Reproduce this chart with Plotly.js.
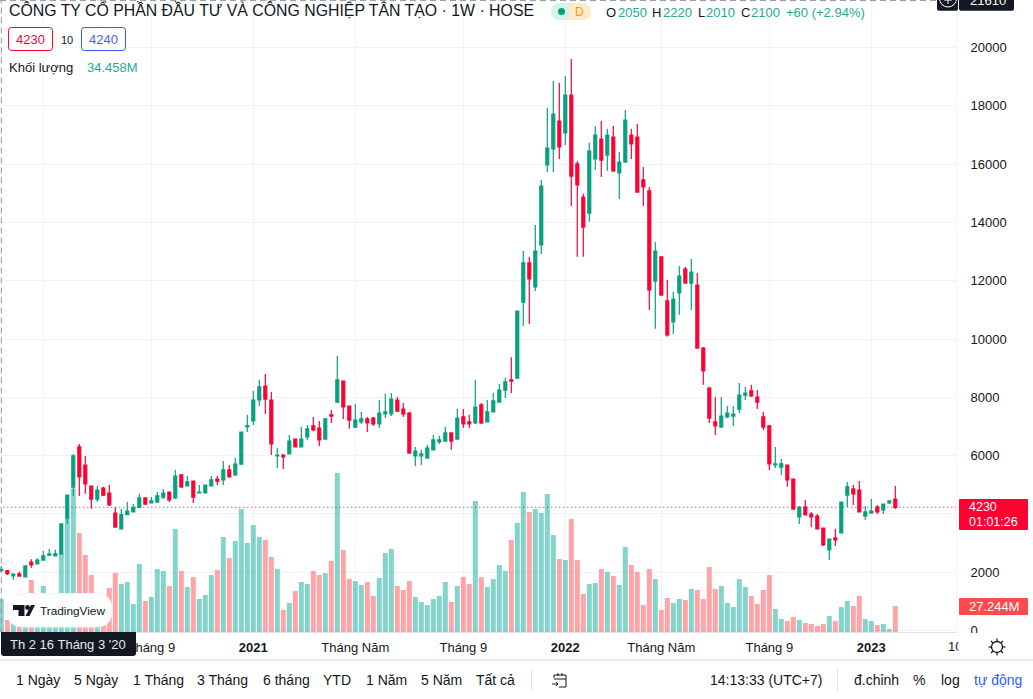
<!DOCTYPE html>
<html><head><meta charset="utf-8">
<script src="https://cdn.plot.ly/plotly-3.0.0.min.js"></script>
<style>html,body{margin:0;padding:0;background:#fff;overflow:hidden}#chart{width:1033px;height:699px}</style>
</head><body><div id="chart"></div>
<script>
const firstWeek = '2020-03-16';
const opens = [2050,2050,1880,1950,1840,2350,2290,2420,2590,2560,2630,3860,4920,6300,5680,4960,4510,4890,4720,4030,3490,3980,4070,4230,4550,4380,4410,4580,4750,4550,5340,4960,5130,4720,4720,4960,5200,5170,5510,5340,5710,6990,
7190,7910,8390,7910,5990,6020,6060,6570,6300,6640,7020,6950,6570,7400,7840,8560,7700,6980,7160,7260,7290,7090,7430,7430,7910,7600,7460,5990,5990,5920,6200,6470,6500,6780,6570,7330,7160,7120,7740,7160,7500,7840,8250,8600,8660,
11270,12610,11790,13230,15970,16520,17480,17070,18370,16010,14870,14320,16180,16860,16310,16930,15700,16070,17000,16930,15460,15080,11990,12820,11310,10590,11580,12400,11920,11850,
9690,8320,7160,6980,7330,7360,7600,8080,8220,8010,7330,7020,5680,5610,5680,5200,3900,4240,4000,3930,3520,2770,3180,3350,4650,4860,4820,3930,4030,4240,4140,4380,4510];
const highs = [2220,2080,1970,2020,2220,2450,2480,2730,2800,2770,3660,4650,6060,6400,5990,4960,4960,4930,4990,4240,4170,4410,4340,4690,4550,4580,4750,4860,4750,5510,5370,5300,5130,4990,4990,5300,5300,5820,5680,5920,6810,7400,
8220,8600,8800,8180,6260,6060,6710,6570,6980,7050,7330,7190,7290,7570,9420,8560,7700,7770,7500,7330,7330,7910,8120,8150,8010,7810,7500,6300,6200,6370,6710,6680,6980,6780,7600,7600,7400,8600,7810,7910,8150,8460,8670,9380,10960,
13020,12820,13910,15460,17930,18850,18780,19020,19610,16110,14980,16730,17310,17480,17210,17310,16420,17860,17210,17380,15900,15220,13330,12820,12030,11620,12510,12470,12750,12270,
9730,8360,8010,8010,7700,7700,8490,8360,8430,8250,7500,7050,6300,5890,5680,5200,4270,4480,4070,4000,3520,3140,3490,4410,5100,4990,5130,4270,4510,4310,4340,4450,4960];
const lows = [2010,1910,1740,1870,1840,2160,2290,2420,2560,2560,2630,3660,4620,4620,4690,4170,4410,4620,4270,3550,3490,3980,4070,4230,4310,4380,4410,4510,4410,4510,4890,4960,4380,4720,4720,4960,4990,4990,5270,5300,5710,6810,
7050,7700,7430,6020,5580,5540,6060,6300,6300,6540,6850,6330,6570,7120,7810,7260,6920,6950,7090,6810,7020,6950,7290,7360,7500,7330,6090,5650,5680,5890,6200,6400,6500,6200,6570,6950,6950,7090,7090,7160,7500,7840,7980,8150,8660,
10450,10520,11650,12920,15730,15730,16180,16660,14560,12820,12820,14020,15800,15560,15770,15730,14800,16070,16180,15040,14560,11000,10350,11510,10080,10170,10830,11920,11000,9690,
8430,7120,6710,6980,7290,7020,7460,7910,8010,7600,6880,5510,5580,5340,4930,4170,3660,3970,3550,3490,2900,2420,2900,3350,4240,4310,4070,3790,4030,4000,4000,4340,4170];
const closes = [2100,1950,1940,1870,2220,2250,2420,2560,2630,2630,3660,4650,5990,5270,5030,4510,4820,4650,4310,3550,3980,4100,4230,4550,4340,4450,4620,4720,4480,5300,4930,5100,4580,4750,4990,5170,5130,5510,5270,5710,6810,7030,
7910,8360,7940,6400,6020,5960,6500,6300,6570,6920,6880,6540,7260,7360,8600,7670,7220,7220,7260,7120,7090,7460,7500,7940,7530,7430,6090,6160,6060,6260,6540,6540,6780,6500,7290,7090,7090,7670,7120,7500,7880,8250,8530,8560,10960,
12610,12060,13020,15250,16550,17720,16590,18370,15590,15290,13840,16450,17000,16140,17000,15770,16070,17510,16690,15040,15220,11680,13020,11510,10140,11370,12160,11920,12300,9690,
8910,7290,7020,7360,7460,7430,8080,8150,8050,7840,6980,5720,5720,5720,5170,4170,4240,3970,3900,3490,2940,3140,3110,4410,4930,4690,4070,4070,4100,4070,4340,4450,4230];
const volumesM = [34.458,12.6,10.8,6.6,16.0,54.5,26.5,48.2,40.9,39.8,82.4,119.1,150.5,103.7,80.7,59.7,28.3,35.3,46.1,61.8,50.3,52.4,29.3,71.3,32.5,36.7,66.0,63.9,48.2,107.9,63.9,47.2,57.6,34.6,38.8,59.7,65.0,99.6,77.5,95.4,128.9,93.3,112.1,99.6,
96.4,78.6,66.0,23.1,30.4,43.0,52.4,50.3,63.9,59.7,61.8,74.4,166.6,85.9,55.5,53.4,49.3,52.4,37.7,56.6,82.8,87.0,48.2,44.0,53.4,36.7,31.4,28.3,34.6,37.7,52.4,31.4,48.2,57.6,50.3,137.3,57.6,47.2,55.5,70.2,63.9,
96.4,114.2,146.7,125.7,128.9,124.7,144.6,101.6,76.5,75.4,118.4,75.4,39.8,50.3,51.3,66.0,62.9,58.7,49.3,89.1,70.2,62.9,28.3,66.0,55.5,23.1,35.6,30.4,34.6,33.5,45.1,44.0,34.6,68.1,45.1,48.2,30.4,26.2,55.5,47.2,
37.7,29.3,44.0,59.7,24.1,13.6,11.5,15.7,12.6,9.4,8.4,6.3,8.4,16.8,11.5,26.2,32.5,27.2,37.7,13.6,11.5,7.3,8.4,3.1,27.244];
const tickWeeks = [7,25,42,59,77,94,110,128,145];
const tickLabels = ['','Tháng 9','<b>2021</b>','Tháng Năm','Tháng 9','<b>2022</b>','Tháng Năm','Tháng 9','<b>2023</b>'];
const priceTicks = [0,2000,4000,6000,8000,10000,12000,14000,16000,18000,20000];
// 4000 sits behind the last-price tag in the reference, so its label is left blank
const priceTickLabels = ['0','2000','','6000','8000','10000','12000','14000','16000','18000','20000'];
const lastPrice = 4230, crossPrice = 21610;

const FONT='"Liberation Sans", Arial, sans-serif';
const GREEN='#08A07F', RED='#FF0033', INK='#131722', GRID='#F0F3FA', EDGE='#E0E3EB', TEAL='#22AB94', BLUE='#2962FF';
const WEEK=7*864e5, t0=Date.parse(firstWeek+'T00:00:00Z');
const weekDate=i=>new Date(t0+i*WEEK).toISOString().slice(0,10);
const weeks=opens.map((_,i)=>weekDate(i));
const isUp=closes.map((c,i)=>c>=opens[i]);
const PW=956, PH=632;
const X=p=>p/PW, Y=p=>(PH-p)/PH;

const shapes=[], annotations=[];
const pt=(x,y)=>X(x)+','+Y(y);
function roundPath(x0,y0,x1,y1,r,rb){ rb=rb===undefined?r:rb;
  return 'M'+pt(x0+r,y0)+' L'+pt(x1-r,y0)+' Q'+pt(x1,y0)+' '+pt(x1,y0+r)+' L'+pt(x1,y1-rb)+' Q'+pt(x1,y1)+' '+pt(x1-rb,y1)+
   ' L'+pt(x0+rb,y1)+' Q'+pt(x0,y1)+' '+pt(x0,y1-rb)+' L'+pt(x0,y0+r)+' Q'+pt(x0,y0)+' '+pt(x0+r,y0)+' Z';}
function path(d,fill,line,w){shapes.push({type:'path',xref:'paper',yref:'paper',path:d,fillcolor:fill||'rgba(0,0,0,0)',line:{color:line||'rgba(0,0,0,0)',width:w||0},layer:'above'});}
function rect(x0,y0,x1,y1,fill){shapes.push({type:'rect',xref:'paper',yref:'paper',x0:X(x0),x1:X(x1),y0:Y(y1),y1:Y(y0),fillcolor:fill,line:{width:0},layer:'above'});}
function seg(x0,y0,x1,y1,c,w){shapes.push({type:'line',xref:'paper',yref:'paper',x0:X(x0),x1:X(x1),y0:Y(y0),y1:Y(y1),line:{color:c,width:w||1},layer:'above'});}
function circ(cx,cy,r,fill,line,w){shapes.push({type:'circle',xref:'paper',yref:'paper',x0:X(cx-r),x1:X(cx+r),y0:Y(cy+r),y1:Y(cy-r),fillcolor:fill||'rgba(0,0,0,0)',line:{color:line||'rgba(0,0,0,0)',width:w||0},layer:'above'});}
function label(text,x,y,o){o=o||{};annotations.push({text:text,xref:'paper',yref:'paper',x:X(x),y:Y(y),xanchor:o.anchor||'left',yanchor:'middle',showarrow:false,borderpad:0,borderwidth:0,
  font:{family:o.family||FONT,size:o.size||13,color:o.color||INK,weight:o.weight||400}});}

// crosshair
shapes.push({type:'line',xref:'x',yref:'y',x0:weeks[0],x1:weeks[0],y0:-100,y1:crossPrice+100,line:{color:'#9598A1',width:1,dash:'6px,4px'},layer:'above'});
shapes.push({type:'line',xref:'paper',yref:'y',x0:0,x1:1,y0:crossPrice,y1:crossPrice,line:{color:'#9598A1',width:1,dash:'6px,4px'},layer:'above'});
// clip below the price scale
rect(958,633,1033,660,'#fff');
// legend
label('CÔNG TY CỔ PHẦN ĐẦU TƯ VÀ CÔNG NGHIỆP TÂN TẠO · 1W · HOSE',9,10,{size:15.85});
path(roundPath(551,3,591,20,8.5),'#D6F3EE');
path('M'+pt(569,3)+' L'+pt(582.5,3)+' Q'+pt(591,3)+' '+pt(591,11.5)+' Q'+pt(591,20)+' '+pt(582.5,20)+' L'+pt(569,20)+' Z','#FFEBCC');
circ(561.5,11.5,3.5,GREEN);
label('D',579,12,{anchor:'center',size:12,color:'#FF9800',weight:500});
[['O',606,'2050',617.5],['H',652,'2220',663],['L',698,'2010',706],['C',741,'2100',751]].forEach(a=>{label(a[0],a[1],12.5);label(a[2],a[3],12.5,{color:TEAL});});
label('+60 (+2.94%)',786,12.5,{color:TEAL});
path(roundPath(8.5,27.5,52.5,50.5,3),'#fff',RED,1);
label('4230',30.5,39,{anchor:'center',color:RED});
label('10',67,39.5,{anchor:'center',size:11});
path(roundPath(81.5,27.5,125.5,50.5,3),'#fff','#3D4FFF',1);
label('4240',103.5,39,{anchor:'center',color:'#4A5BFF'});
label('Khối lượng',9,67.5);
label('34.458M',87,67.5,{color:TEAL});
// TradingView pill
path(roundPath(7,593.5,112,627,16),'rgba(255,255,255,0.96)','#F0F3FA',1);
path('M'+pt(13,605)+' L'+pt(24.5,605)+' L'+pt(24.5,616)+' L'+pt(18.5,616)+' L'+pt(18.5,610)+' L'+pt(13,610)+' Z',INK);
circ(27.5,607.5,2.4,INK);
path('M'+pt(31,605)+' L'+pt(35,605)+' L'+pt(29.5,616)+' L'+pt(25.5,616)+' Z',INK);
label('TradingView',40,610.5,{size:11.8});
// cursor date tag
path(roundPath(1,632,136,656,0,3),INK);
label('Th 2 16 Tháng 3 \'20',10,645,{color:'#E6E8EE'});
// last price tags
path(roundPath(959,499,1028,530,1),RED);
label('4230',969,507,{color:'#fff',size:12.5});
label('01:01:26',969,522,{color:'#fff',size:12.5});
path(roundPath(959,598,1028,615,1),'#FF4A4F');
label('27.244M',969,606.5,{color:'#fff'});
// crosshair price tag + add button
path(roundPath(959,-3,1014,10.7,2),INK);
label('21610',970,0,{color:'#fff'});
path(roundPath(937,-3,958,10.7,2),INK);
circ(948,-1.5,8.5,null,'#fff',1);
seg(948,-1,948,4,'#fff',1); seg(944,0,952,0,'#fff',1);
// cut-off tick at the far right of the time scale
label('10',948,647);
annotations.push({text:' ',xref:'paper',yref:'paper',x:X(958),y:Y(647),xanchor:'left',yanchor:'middle',showarrow:false,width:14,height:18,bgcolor:'#fff',borderpad:0});
// gear
circ(997,647,5.5,null,INK,1.3);
[[997,638.5,997,641.5],[997,652.5,997,655.5],[988.5,647,991.5,647],[1002.5,647,1005.5,647],[991,641,993,643],[1001,651,1003,653],[1003,641,1001,643],[993,651,991,653]].forEach(s=>seg(s[0],s[1],s[2],s[3],INK,1.2));
// toolbar
seg(0,660,1033,660,EDGE,1.5);
[['1 Ngày',16],['5 Ngày',74],['1 Tháng',133],['3 Tháng',197],['6 tháng',263],['YTD',323],['1 Năm',366],['5 Năm',421],['Tất cả',476]].forEach(b=>label(b[0],b[1],680,{size:14}));
seg(531.5,669,531.5,691,EDGE,1);
seg(837.5,669,837.5,691,EDGE,1);
path('M'+pt(554,678)+' L'+pt(554,675)+' L'+pt(566,675)+' L'+pt(566,687)+' L'+pt(559,687)+' M'+pt(554,679)+' L'+pt(566,679)+' M'+pt(558,673)+' L'+pt(558,676)+' M'+pt(562,673)+' L'+pt(562,676)+' M'+pt(552,684)+' L'+pt(558,684)+' M'+pt(556,682)+' L'+pt(558,684)+' L'+pt(556,686),null,INK,1);
label('14:13:33 (UTC+7)',710,680,{size:14});
label('đ.chỉnh',854,680,{size:14});
label('%',913,680,{size:14});
label('log',941,680,{size:14});
label('tự động',974,680,{size:14,color:BLUE});

const data=[
 {type:'bar',x:weeks,y:volumesM,yaxis:'y2',marker:{color:isUp.map(u=>u?'rgba(10,170,153,0.5)':'rgba(255,74,79,0.5)'),line:{width:0}},hoverinfo:'skip',showlegend:false},
 {type:'scatter',mode:'lines',x:[new Date(t0-WEEK).toISOString().slice(0,10),weekDate(165)],y:[lastPrice,lastPrice],yaxis:'y3',line:{color:RED,width:1,dash:'1px,3px'},hoverinfo:'skip',showlegend:false},
 {type:'candlestick',x:weeks,open:opens,high:highs,low:lows,close:closes,yaxis:'y4',whiskerwidth:0,
  increasing:{line:{color:GREEN,width:1.2},fillcolor:GREEN},decreasing:{line:{color:RED,width:1.2},fillcolor:RED},hoverinfo:'skip',showlegend:false}
];
const priceRange=[-48,21630];
const overlay={overlaying:'y',side:'right',range:priceRange,visible:false,fixedrange:true};
const layout={width:1033,height:699,margin:{l:0,r:77,t:0,b:67,pad:0},paper_bgcolor:'#fff',plot_bgcolor:'#fff',
 showlegend:false,hovermode:false,dragmode:false,bargap:0.167,boxgap:0.3,boxmode:'overlay',
 font:{family:FONT,size:13,color:INK},
 xaxis:{type:'date',range:[new Date(t0-WEEK*1.3/6).toISOString(),new Date(t0+WEEK*954.7/6).toISOString()],
   tickmode:'array',tickvals:tickWeeks.map(i=>weeks[i]),ticktext:tickLabels,ticks:'outside',ticklen:3,tickcolor:'rgba(0,0,0,0)',
   showgrid:true,gridcolor:GRID,gridwidth:1,zeroline:false,showline:true,linecolor:EDGE,linewidth:1,fixedrange:true,rangeslider:{visible:false},tickfont:{size:13,color:INK,family:FONT}},
 yaxis:{side:'right',range:priceRange,tickmode:'array',tickvals:priceTicks,ticktext:priceTickLabels,ticks:'outside',ticklen:11,tickcolor:'rgba(0,0,0,0)',
   showgrid:true,gridcolor:GRID,gridwidth:1,zeroline:false,showline:true,linecolor:GRID,linewidth:1,fixedrange:true,tickfont:{size:13,color:INK,family:FONT}},
 yaxis2:{overlaying:'y',side:'right',range:[0,662.3],visible:false,fixedrange:true},
 yaxis3:overlay, yaxis4:Object.assign({},overlay),
 shapes:shapes,annotations:annotations};
Plotly.newPlot('chart',data,layout,{displayModeBar:false,staticPlot:true,responsive:false});
</script></body></html>
